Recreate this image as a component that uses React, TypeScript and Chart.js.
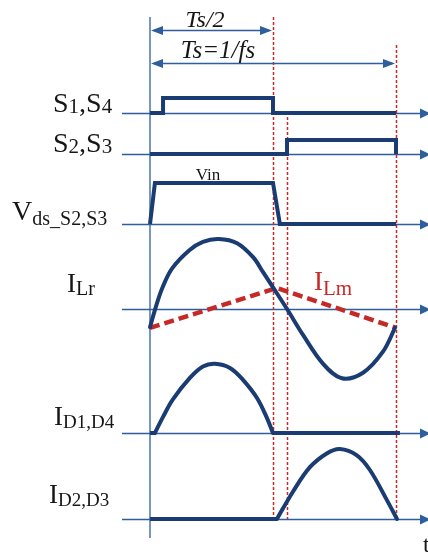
import { useEffect, useRef } from "react";
import { Chart, registerables } from "chart.js";

Chart.register(...registerables);

// Time is expressed in units of the switching period Ts (0 .. 1).
// Amplitudes are normalised per trace.

// Gate signals S1,S4 and S2,S3
const S14_T = [0, 0.053, 0.053, 0.5, 0.5, 1.0];
const S14_V = [0, 0, 1, 1, 0, 0];
const S23_T = [0, 0.557, 0.557, 1.0, 1.0];
const S23_V = [0, 0, 1, 1, 0];

// Drain-source voltage of S2,S3 (Vin = 1)
const VDS_T = [0, 0.02, 0.5, 0.528, 1.0];
const VDS_V = [0, 1, 1, 0, 0];

// Resonant inductor current
const ILR_T = [0, 0.022, 0.05, 0.09, 0.16, 0.215, 0.28, 0.354, 0.419, 0.459, 0.5, 0.557, 0.622, 0.703, 0.78, 0.866, 0.947, 0.996];
const ILR_V = [-0.26, 0.01, 0.3, 0.58, 0.84, 0.96, 1.0, 0.94, 0.74, 0.53, 0.31, 0, -0.37, -0.78, -0.99, -0.91, -0.61, -0.27];

// Magnetising current
const ILM_T = [0, 0.515, 1.0];
const ILM_V = [-0.27, 0.3, -0.27];

// Rectifier diode currents
const ID14_T = [0.02, 0.053, 0.093, 0.163, 0.215, 0.264, 0.325, 0.378, 0.435, 0.476, 0.5];
const ID14_V = [0, 0.23, 0.48, 0.79, 0.95, 0.99, 0.93, 0.76, 0.5, 0.21, 0];
const ID14_OFF_T = [[0, 0.02], [0.5, 1.016]];
const ID23_T = [0.516, 0.581, 0.65, 0.72, 0.772, 0.841, 0.894, 0.963, 1.004];
const ID23_V = [0, 0.39, 0.74, 0.94, 1.0, 0.91, 0.7, 0.27, 0];
const ID23_OFF_T = [[0, 0.516]];

// Guide lines: Ts/2, S2,S3 turn-on, Ts
const GUIDE_T = [0.5, 0.557, 1.0];

// Trace rows: baseline and vertical gain in y-scale units
const ROWS = {
  s14: { base: 442, gain: 15 },
  s23: { base: 401, gain: 14 },
  vds: { base: 331, gain: 41 },
  ilr: { base: 246, gain: 70 },
  id14: { base: 122, gain: 70 },
  id23: { base: 36, gain: 70 },
};

const NAVY = "#1b3c72";
const AXIS = "#2f5e9c";
const RED = "#c62a27";
const SERIF = '"Liberation Serif", "Times New Roman", serif';

type Row = { base: number; gain: number };

function pts(t: number[], v: number[], row: Row) {
  return t.map((x, i) => ({ x, y: row.base + row.gain * v[i] }));
}

function flat(spans: number[][], row: Row) {
  return spans.map((s) => s.map((x) => ({ x, y: row.base })));
}

type Part = { t: string; s: number; dy?: number };

function drawParts(ctx: CanvasRenderingContext2D, x: number, y: number, parts: Part[], color: string) {
  ctx.fillStyle = color;
  ctx.textAlign = "left";
  ctx.textBaseline = "alphabetic";
  let cx = x;
  for (const p of parts) {
    ctx.font = `${p.s}px ${SERIF}`;
    ctx.fillText(p.t, cx, y + (p.dy || 0));
    cx += ctx.measureText(p.t).width;
  }
}

function arrowHead(ctx: CanvasRenderingContext2D, tipX: number, y: number, dir: number, len: number, half: number, color: string) {
  ctx.fillStyle = color;
  ctx.beginPath();
  ctx.moveTo(tipX, y);
  ctx.lineTo(tipX - dir * len, y - half);
  ctx.lineTo(tipX - dir * len, y + half);
  ctx.closePath();
  ctx.fill();
}

const decor = {
  id: "timingDecor",
  beforeDatasetsDraw(chart: any) {
    const { ctx, scales } = chart;
    const xs = scales.x;
    const ys = scales.y;
    ctx.save();
    // row axes with arrow heads
    ctx.strokeStyle = AXIS;
    ctx.lineWidth = 1.3;
    for (const row of Object.values(ROWS)) {
      const py = Math.round(ys.getPixelForValue(row.base)) + 0.5;
      ctx.beginPath();
      ctx.moveTo(122, py);
      ctx.lineTo(424, py);
      ctx.stroke();
      arrowHead(ctx, 431, py, 1, 11, 5, AXIS);
    }
    // vertical time origin
    const x0 = xs.getPixelForValue(0);
    ctx.beginPath();
    ctx.moveTo(x0, 17);
    ctx.lineTo(x0, 538);
    ctx.stroke();

    // dashed red guides
    const tops = [17, 117, 45];
    const bottom = ys.getPixelForValue(ROWS.id23.base);
    ctx.strokeStyle = RED;
    ctx.lineWidth = 1.5;
    ctx.setLineDash([3, 2]);
    GUIDE_T.forEach((t, i) => {
      const px = Math.round(xs.getPixelForValue(t)) + 0.5;
      ctx.beginPath();
      ctx.moveTo(px, tops[i]);
      ctx.lineTo(px, bottom);
      ctx.stroke();
    });
    ctx.setLineDash([]);
    ctx.restore();
  },
  afterDatasetsDraw(chart: any) {
    const { ctx, scales } = chart;
    const xs = scales.x;
    const ys = scales.y;
    const rowY = (r: Row) => ys.getPixelForValue(r.base);
    ctx.save();

    // period dimension arrows
    const x0 = xs.getPixelForValue(0);
    const xh = xs.getPixelForValue(0.5);
    const x1 = xs.getPixelForValue(1.0);
    ctx.strokeStyle = AXIS;
    ctx.lineWidth = 1.3;
    for (const [xe, y] of [[xh, 30.5], [x1, 63.5]]) {
      ctx.beginPath();
      ctx.moveTo(x0 + 4, y);
      ctx.lineTo(xe - 4, y);
      ctx.stroke();
      arrowHead(ctx, x0 + 1, y, -1, 12, 4.5, AXIS);
      arrowHead(ctx, xe - 1, y, 1, 12, 4.5, AXIS);
    }
    const ink = "#161616";
    ctx.fillStyle = ink;
    ctx.textAlign = "center";
    ctx.textBaseline = "alphabetic";
    ctx.font = `italic 24px ${SERIF}`;
    ctx.fillText("Ts/2", 205, 27);
    ctx.font = `italic 25px ${SERIF}`;
    ctx.fillText("Ts=1/fs", 218, 58);

    // Vin level label
    ctx.font = `17px ${SERIF}`;
    ctx.fillText("Vin", 208, 180);

    // row labels
    drawParts(ctx, 53, rowY(ROWS.s14) - 1, [
      { t: "S", s: 28 }, { t: "1", s: 21, dy: 1 }, { t: ",", s: 28 }, { t: "S", s: 28 }, { t: "4", s: 21, dy: 1 },
    ], ink);
    drawParts(ctx, 53, rowY(ROWS.s23) - 2, [
      { t: "S", s: 28 }, { t: "2", s: 21, dy: 1 }, { t: ",", s: 28 }, { t: "S", s: 28 }, { t: "3", s: 21, dy: 1 },
    ], ink);
    drawParts(ctx, 12, rowY(ROWS.vds) - 4, [
      { t: "V", s: 28 }, { t: "ds_S2,S3", s: 20, dy: 5 },
    ], ink);
    drawParts(ctx, 67, rowY(ROWS.ilr) - 17, [
      { t: "I", s: 27 }, { t: "Lr", s: 20, dy: 3 },
    ], ink);
    drawParts(ctx, 54, rowY(ROWS.id14) - 8, [
      { t: "I", s: 27 }, { t: "D1,D4", s: 19, dy: 3 },
    ], ink);
    drawParts(ctx, 49, rowY(ROWS.id23) - 16, [
      { t: "I", s: 27 }, { t: "D2,D3", s: 19, dy: 3 },
    ], ink);
    drawParts(ctx, 314, rowY(ROWS.ilr) - 19, [
      { t: "I", s: 27 }, { t: "Lm", s: 21, dy: 5 },
    ], RED);

    // time axis label
    ctx.font = `24px ${SERIF}`;
    ctx.fillStyle = ink;
    ctx.textAlign = "left";
    ctx.fillText("t", 423, 552);
    ctx.restore();
  },
};

export default function App() {
  const ref = useRef<HTMLCanvasElement | null>(null);

  useEffect(() => {
    if (!ref.current) return;
    const step = { tension: 0, borderColor: NAVY, borderWidth: 4, pointRadius: 0, showLine: true, fill: false, borderJoinStyle: "miter" as const };
    const curve = { ...step, tension: 0.35, borderJoinStyle: "round" as const, borderCapStyle: "round" as const };

    const datasets: any[] = [
      { ...step, label: "S1,S4", data: pts(S14_T, S14_V, ROWS.s14) },
      { ...step, label: "S2,S3", data: pts(S23_T, S23_V, ROWS.s23) },
      { ...step, label: "Vds_S2,S3", data: pts(VDS_T, VDS_V, ROWS.vds) },
      { ...curve, label: "ILr", data: pts(ILR_T, ILR_V, ROWS.ilr) },
      {
        ...step,
        label: "ILm",
        data: pts(ILM_T, ILM_V, ROWS.ilr),
        borderColor: RED,
        borderWidth: 4.5,
        borderDash: [10, 5],
        borderCapStyle: "butt",
      },
      { ...curve, label: "ID1,D4", data: pts(ID14_T, ID14_V, ROWS.id14) },
      ...flat(ID14_OFF_T, ROWS.id14).map((d) => ({ ...step, label: "ID1,D4 off", data: d })),
      { ...curve, label: "ID2,D3", data: pts(ID23_T, ID23_V, ROWS.id23) },
      ...flat(ID23_OFF_T, ROWS.id23).map((d) => ({ ...step, label: "ID2,D3 off", data: d })),
    ];

    const chart = new Chart(ref.current, {
      type: "scatter",
      data: { datasets },
      options: {
        animation: false,
        responsive: false,
        devicePixelRatio: 1,
        layout: { padding: 0 },
        plugins: { legend: { display: false }, tooltip: { enabled: false } },
        scales: {
          x: { type: "linear", display: false, min: -150 / 246, max: 278 / 246 },
          y: { type: "linear", display: false, min: 0, max: 555 },
        },
      },
      plugins: [decor],
    });
    return () => chart.destroy();
  }, []);

  return (
    <div style={{ position: "absolute", left: 0, top: 0, width: 428, height: 555, background: "#fff" }}>
      <canvas ref={ref} width={428} height={555} style={{ display: "block" }} />
    </div>
  );
}
